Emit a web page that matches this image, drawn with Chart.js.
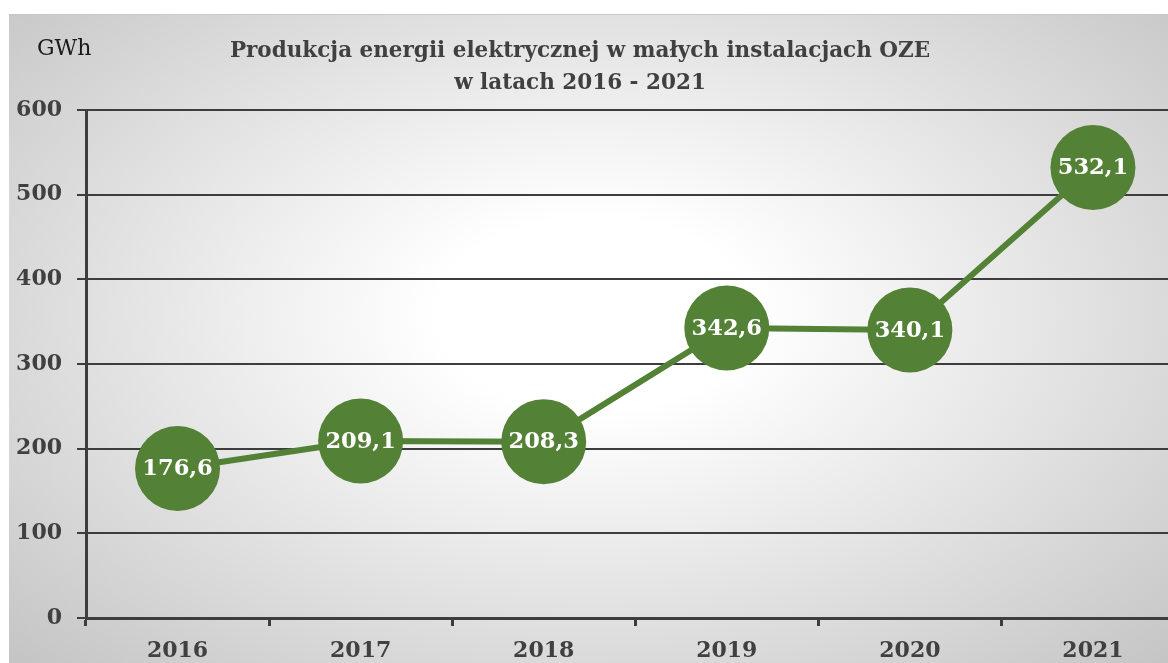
<!DOCTYPE html>
<html><head><meta charset="utf-8">
<script src="https://cdn.jsdelivr.net/npm/chart.js@4/dist/chart.umd.min.js"></script>
<style>
html,body{margin:0;padding:0;width:1168px;height:663px;overflow:hidden;background:#fff;}
#wrap{position:absolute;left:9px;top:14px;width:1220px;height:665px;
 background:radial-gradient(ellipse 72% 80% at 48% 45%, #ffffff 18%, #bfbfbf 100%);
 border-top:1px solid #c8c8c8;}
#cv{position:absolute;left:0;top:0;}
.t{position:absolute;font-family:"DejaVu Serif","Liberation Serif",serif;white-space:nowrap;}
#title{left:0;width:1142px;top:19px;text-align:center;font-weight:bold;color:#404040;font-size:21.5px;line-height:32px;}
#unit{left:28px;top:20px;font-size:22px;color:#1a1a1a;}
</style></head>
<body>
<div id="wrap">
<canvas id="cv" width="1218" height="660"></canvas>
<div class="t" id="unit">GWh</div>
<div class="t" id="title">Produkcja energii elektrycznej w małych instalacjach OZE<br>w latach 2016 - 2021</div>
</div>
<script>
const years = ["2016","2017","2018","2019","2020","2021"];
const production = [176.6, 209.1, 208.3, 342.6, 340.1, 532.1];
const valueLabels = ["176,6","209,1","208,3","342,6","340,1","532,1"];
const yTicks = [0,100,200,300,400,500,600];

const GREEN = "#538135";
const AXIS = "#3d3d3d";
const FONT = '"DejaVu Serif","Liberation Serif",serif';

const labelPlugin = {
  id: "valueLabels",
  afterDatasetsDraw(chart){
    const ctx = chart.ctx;
    const meta = chart.getDatasetMeta(0);
    ctx.save();
    ctx.fillStyle = "#ffffff";
    ctx.font = "bold 22.5px " + FONT;
    ctx.textAlign = "center";
    ctx.textBaseline = "middle";
    meta.data.forEach((pt, i) => {
      ctx.fillText(valueLabels[i], pt.x, pt.y + 1);
    });
    ctx.restore();
  }
};

new Chart(document.getElementById("cv"), {
  type: "line",
  data: {
    labels: years,
    datasets: [{
      data: production,
      borderColor: GREEN,
      backgroundColor: GREEN,
      borderWidth: 6,
      pointRadius: 42.5,
      pointHoverRadius: 42.5,
      pointBackgroundColor: GREEN,
      pointBorderWidth: 0,
      tension: 0,
      clip: false
    }]
  },
  options: {
    responsive: false,
    animation: false,
    events: [],
    layout: { padding: { top: 95, right: 0, left: 0, bottom: 0 } },
    plugins: { legend: { display: false }, tooltip: { enabled: false } },
    scales: {
      x: {
        type: "category",
        offset: true,
        afterFit(s){ s.height = 57; },
        grid: { offset: true, drawOnChartArea: false, drawTicks: true, tickLength: 8, tickWidth: 3, tickColor: AXIS },
        border: { display: true, color: AXIS, width: 3 },
        ticks: { color: "#404040", font: { family: FONT, size: 22, weight: "bold" }, padding: 12, maxRotation: 0 }
      },
      y: {
        min: 0, max: 600,
        afterFit(s){ s.width = 77; },
        afterBuildTicks(s){ s.ticks = yTicks.map(v => ({ value: v })); },
        grid: { color: AXIS, lineWidth: 2, drawTicks: true, tickLength: 9, tickColor: AXIS, tickWidth: 2 },
        border: { display: true, color: AXIS, width: 3 },
        ticks: { color: "#404040", font: { family: FONT, size: 22, weight: "bold" }, padding: 15 }
      }
    }
  },
  plugins: [labelPlugin]
});
</script>
</body></html>
